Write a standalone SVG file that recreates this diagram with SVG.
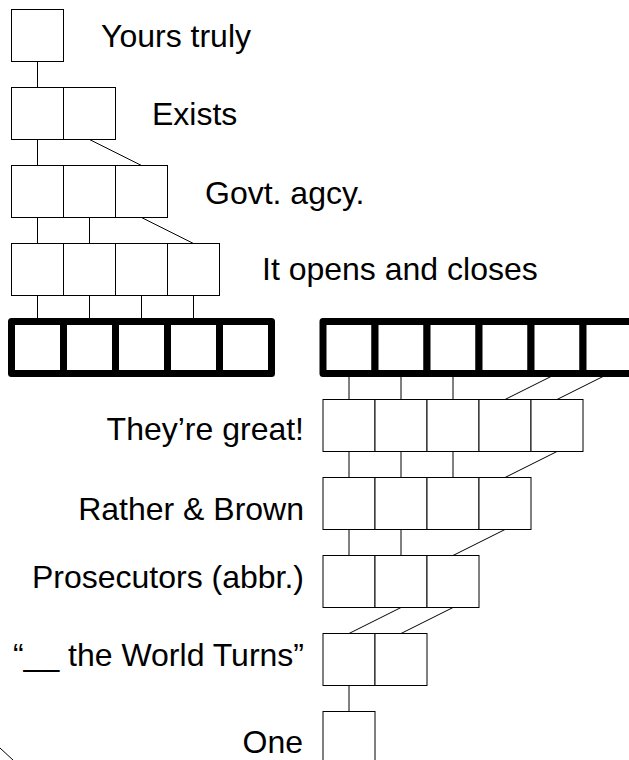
<svg xmlns="http://www.w3.org/2000/svg" width="629" height="760" viewBox="0 0 629 760">
<style>
.c{fill:#fff;stroke:#000;stroke-width:1}
.k{fill:#fff;stroke:#000;stroke-width:7;stroke-linejoin:round}
.l{stroke:#000;stroke-width:1;fill:none}
text{font-family:"Liberation Sans",Arial,sans-serif;font-size:32px;fill:#000}
.e{text-anchor:end}
</style>
<rect width="629" height="760" fill="#fff"/>
<g id="connectors" class="l">
<path d="M37.5 61.5V87.5"/>
<path d="M37.5 139.5V165.5M89.5 139.5L141.5 165.5"/>
<path d="M37.5 217.5V243.5M89.5 217.5V243.5M141.5 217.5L193.5 243.5"/>
<path d="M37.5 295.5V321.5M89.5 295.5V321.5M141.5 295.5V321.5M193.5 295.5V321.5"/>
<path d="M349 373.5V399.5M401 373.5V399.5M453 373.5V399.5M557 373.5L505 399.5M609 373.5L557 399.5"/>
<path d="M349 451.5V477.5M401 451.5V477.5M453 451.5V477.5M557 451.5L505 477.5"/>
<path d="M349 529.5V555.5M401 529.5V555.5M505 529.5L453 555.5"/>
<path d="M401 607.5L349 633.5M453 607.5L401 633.5"/>
<path d="M349 685.5V711.5"/>
<path d="M0 748L13 760"/>
</g>
<g id="n1"><rect class="c" x="11.5" y="9.5" width="52" height="52"/><text x="101" y="47">Yours truly</text></g>
<g id="n2"><rect class="c" x="11.5" y="87.5" width="52" height="52"/><rect class="c" x="63.5" y="87.5" width="52" height="52"/><text x="152" y="125">Exists</text></g>
<g id="n3"><rect class="c" x="11.5" y="165.5" width="52" height="52"/><rect class="c" x="63.5" y="165.5" width="52" height="52"/><rect class="c" x="115.5" y="165.5" width="52" height="52"/><text x="205" y="204">Govt. agcy.</text></g>
<g id="n4"><rect class="c" x="11.5" y="243.5" width="52" height="52"/><rect class="c" x="63.5" y="243.5" width="52" height="52"/><rect class="c" x="115.5" y="243.5" width="52" height="52"/><rect class="c" x="167.5" y="243.5" width="52" height="52"/><text x="262" y="280">It opens and closes</text></g>
<g id="n5"><rect class="k" x="11.5" y="321.5" width="52" height="52"/><rect class="k" x="63.5" y="321.5" width="52" height="52"/><rect class="k" x="115.5" y="321.5" width="52" height="52"/><rect class="k" x="167.5" y="321.5" width="52" height="52"/><rect class="k" x="219.5" y="321.5" width="52" height="52"/></g>
<g id="n6"><rect class="k" x="323" y="321.5" width="52" height="52"/><rect class="k" x="375" y="321.5" width="52" height="52"/><rect class="k" x="427" y="321.5" width="52" height="52"/><rect class="k" x="479" y="321.5" width="52" height="52"/><rect class="k" x="531" y="321.5" width="52" height="52"/><rect class="k" x="583" y="321.5" width="52" height="52"/></g>
<g id="n7"><rect class="c" x="323" y="399.5" width="52" height="52"/><rect class="c" x="375" y="399.5" width="52" height="52"/><rect class="c" x="427" y="399.5" width="52" height="52"/><rect class="c" x="479" y="399.5" width="52" height="52"/><rect class="c" x="531" y="399.5" width="52" height="52"/><text class="e" x="304" y="440">They’re great!</text></g>
<g id="n8"><rect class="c" x="323" y="477.5" width="52" height="52"/><rect class="c" x="375" y="477.5" width="52" height="52"/><rect class="c" x="427" y="477.5" width="52" height="52"/><rect class="c" x="479" y="477.5" width="52" height="52"/><text class="e" x="304" y="520">Rather &amp; Brown</text></g>
<g id="n9"><rect class="c" x="323" y="555.5" width="52" height="52"/><rect class="c" x="375" y="555.5" width="52" height="52"/><rect class="c" x="427" y="555.5" width="52" height="52"/><text class="e" x="304" y="588">Prosecutors (abbr.)</text></g>
<g id="n10"><rect class="c" x="323" y="633.5" width="52" height="52"/><rect class="c" x="375" y="633.5" width="52" height="52"/><text class="e" x="304" y="666">“__ the World Turns”</text></g>
<g id="n11"><rect class="c" x="323" y="711.5" width="52" height="52"/><text class="e" x="303" y="753">One</text></g>
</svg>
